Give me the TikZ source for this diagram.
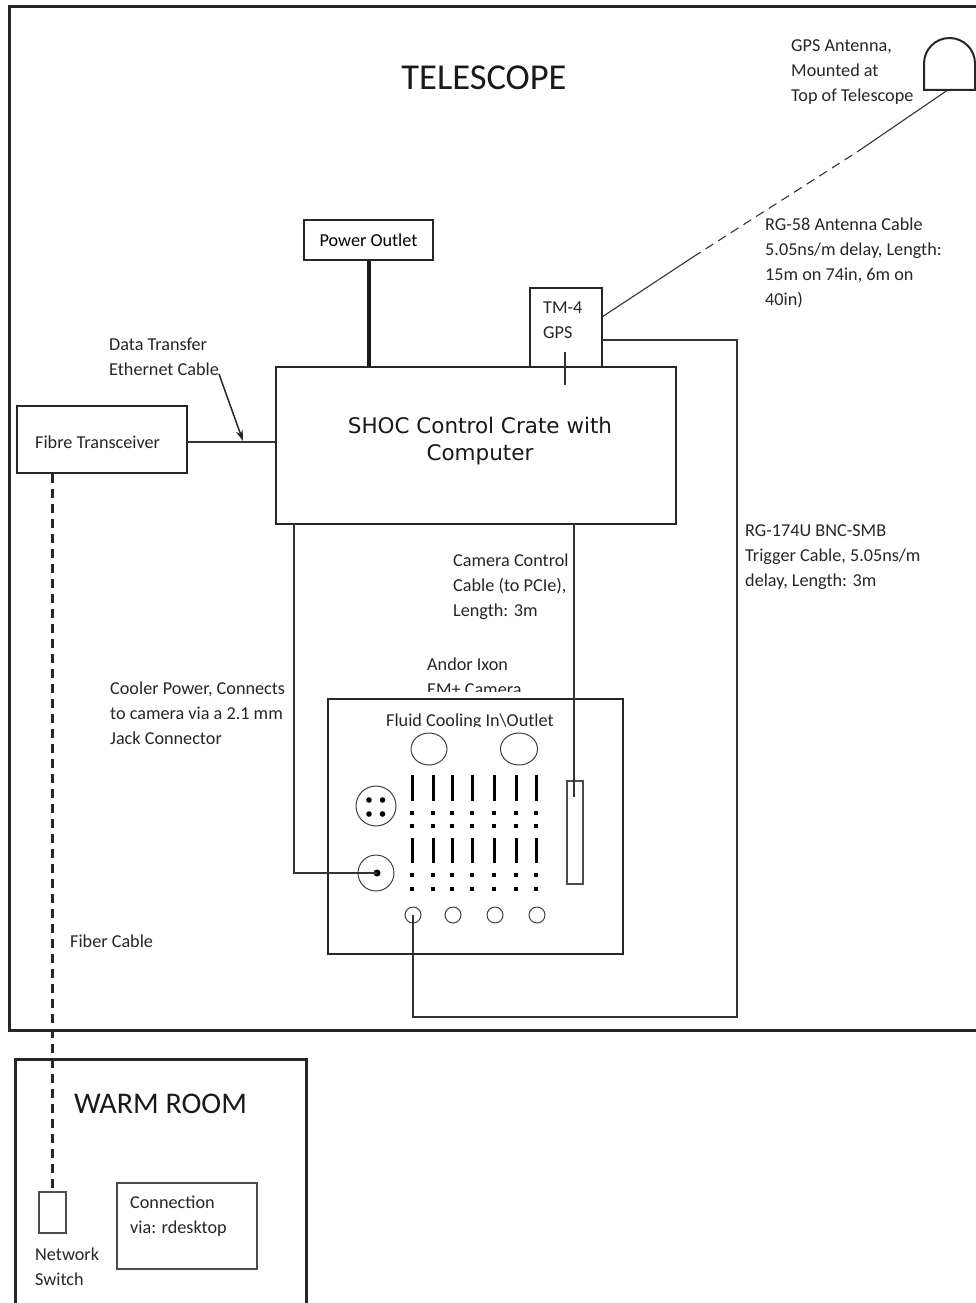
\documentclass[tikz,border=0pt]{standalone}
\usepackage{fontspec}
\setmainfont{Carlito}
\newfontfamily\cratefont{DejaVu Sans}
\usetikzlibrary{arrows.meta, shapes.geometric}

\begin{document}
\begin{tikzpicture}[
    x=1pt, y=-1pt,
    wall/.style={line width=3pt, color=black!85},
    unit/.style={rectangle, draw=black!85, line width=2pt, fill=white, inner sep=0pt, align=center},
    thinbox/.style={rectangle, draw=black!70, line width=1.1pt, fill=white, inner sep=0pt},
    port/.style={circle, draw=black!75, line width=1pt, inner sep=0pt},
    pin/.style={fill=black, inner sep=0pt, minimum size=3.5pt, rectangle},
    cable/.style={line width=1.1pt, color=black!80},
    txt/.style={anchor=north west, inner sep=0pt, align=left, font=\fontsize{18.2}{25}\selectfont, color=black!85},
    title/.style={inner sep=0pt, font=\fontsize{36.5}{40}\selectfont, color=black!90}
]
\useasboundingbox (0,0) rectangle (976,1303);
% Rooms
\draw[wall] (976,7) -- (9,7) -- (9,1030) -- (976,1030);
\draw[wall] (15,1303) -- (15,1059) -- (306,1059) -- (306,1303);
\node[title] (telescope) at (484,78) {TELESCOPE};
\node[title, font=\fontsize{30}{36}\selectfont] (warm) at (160.5,1104) {WARM ROOM};
% Nodes
\node[unit, minimum width=129pt, minimum height=40pt] (power) at (368.5,240) {\fontsize{18.2}{25}\selectfont Power Outlet};
\node[unit, minimum width=72pt, minimum height=79pt] (tm4) at (566,327.5) {};
\node[unit, minimum width=400pt, minimum height=157pt] (crate) at (476,445.5) {};
\node[inner sep=0pt, align=center, font=\cratefont\fontsize{21.5}{26.5}\selectfont, color=black!90] (cratelabel) at (480,441) {SHOC Control Crate with\\Computer};
\node[unit, minimum width=170pt, minimum height=67pt] (fibre) at (102,439.5) {};
\node[thinbox, minimum width=27pt, minimum height=41pt] (switch) at (52.5,1212.5) {};
\node[thinbox, minimum width=140pt, minimum height=86pt] (rdesktop) at (187,1226) {};
% Antenna
\draw[unit] (924,90) -- (924,63.5) arc[start angle=180, end angle=0, radius=25.5pt] -- (975,90) -- cycle;
\coordinate (antbase) at (947,90.5);
\coordinate (gpsout) at (602,317);
\coordinate (dashA) at (693,257);
\coordinate (dashB) at (857,152);
% Camera
\begin{scope}
\clip (420,650) rectangle (540,691.5);
\node[txt] (andor) at (427,658) {Andor Ixon\\EM+ Camera};
\end{scope}
\node[unit, minimum width=295pt, minimum height=255pt] (camera) at (475.5,826.5) {};
\begin{scope}
\clip (380,700) rectangle (560,726.5);
\node[txt] (fluid) at (386,714) {Fluid Cooling In\textbackslash Outlet};
\end{scope}
\node[port, ellipse, minimum width=36pt, minimum height=32pt] (fluidin) at (429,749) {};
\node[port, ellipse, minimum width=37pt, minimum height=32pt] (fluidout) at (519,749) {};
\node[port, minimum size=40pt] (fourpin) at (376,806) {};
\foreach \px in {369,382.5} \foreach \py in {800,814}
    \fill (\px,\py) circle[radius=2.8pt];
\node[port, minimum size=36pt] (jack) at (376,873) {};
\node[circle, fill=black, inner sep=0pt, minimum size=7pt] (jackpin) at (377,873) {};
\node[thinbox, minimum width=16pt, minimum height=103pt, fill=none] (slot) at (575,832.5) {};
% Pin rows
\foreach \bx in {412,433,452,472,494,516,536} {
    \draw[line width=3pt] (\bx,775) -- (\bx,801);
    \draw[line width=3pt] (\bx,838) -- (\bx,863);
    \node[pin] at (\bx,813) {};
    \node[pin] at (\bx,826) {};
    \node[pin] at (\bx,875) {};
    \node[pin] at (\bx,889) {};
}
\node[port, minimum size=16pt] (bncA) at (413,915) {};
\node[port, minimum size=16pt] (bncB) at (453,915) {};
\node[port, minimum size=16pt] (bncC) at (495,915) {};
\node[port, minimum size=16pt] (bncD) at (537,915) {};
% Cables
\draw[line width=4pt, color=black!90] (power.south) -- (power.south |- crate.north);
\draw[cable] (gpsout) -- (dashA);
\draw[cable, dash pattern=on 9pt off 6pt] (dashA) -- (dashB);
\draw[cable] (dashB) -- (antbase);
\coordinate (gpsstub) at (565,352);
\draw[cable] (gpsstub) -- (565,385);
\coordinate (trigger) at (602,340);
\draw[cable] (trigger) -- (737,340) -- (737,1017) -- (413,1017) -- (bncA.center);
\coordinate (fibreout) at (187,442);
\draw[cable] (fibreout) -- (fibreout -| crate.west);
\coordinate (datatip) at (243,441);
\coordinate (datatail) at (219,374);
\draw[-{Stealth[length=11pt, width=7pt]}, line width=1.5pt, color=black!85] (datatail) -- (datatip);
\coordinate (coolout) at (294,524);
\draw[cable] (coolout) -- (coolout |- jackpin) -- (jackpin.center);
\coordinate (ctrlout) at (574,524);
\draw[cable] (ctrlout) -- (574,797);
\draw[line width=2.6pt, color=black!85, dash pattern=on 9pt off 6pt] (fibre.south -| switch.north) -- (switch.north);
% Labels
\node[txt] (gpslabel) at (543,302) {TM-4\\GPS};
\node[txt] (antlabel) at (791,39) {GPS Antenna,\\Mounted at\\Top of Telescope};
\node[txt] (rg58) at (765,218) {RG-58 Antenna Cable\\5.05ns/m delay, Length:\\15m on 74in, 6m on\\40in)};
\node[txt] (datalabel) at (109,338) {Data Transfer\\Ethernet Cable};
\node[txt] (ctrllabel) at (453,554) {Camera Control\\Cable (to PCIe),\\Length: 3m};
\node[txt] (rg174) at (745,524) {RG-174U BNC-SMB\\Trigger Cable, 5.05ns/m\\delay, Length: 3m};
\node[txt] (coollabel) at (110,682) {Cooler Power, Connects\\to camera via a 2.1 mm\\Jack Connector};
\node[txt] (fibrelabel) at (35,436) {Fibre Transceiver};
\node[txt] (fiberlabel) at (70,935) {Fiber Cable};
\node[txt] (switchlabel) at (35,1248) {Network\\Switch};
\node[txt] (rdplabel) at (130,1196) {Connection\\via: rdesktop};
\end{tikzpicture}
\end{document}
